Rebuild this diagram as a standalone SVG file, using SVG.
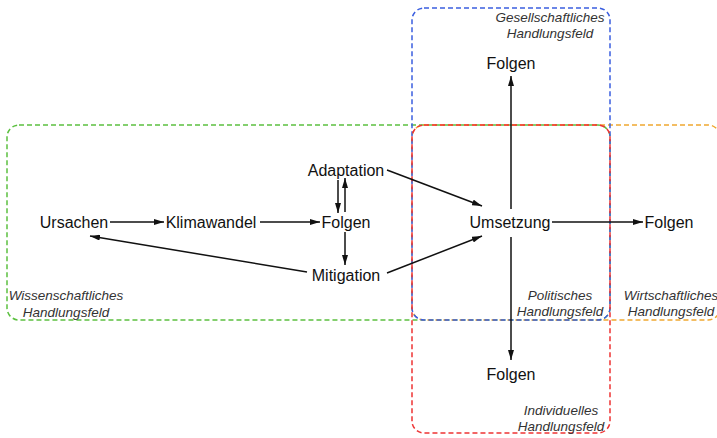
<svg xmlns="http://www.w3.org/2000/svg" width="717" height="438" viewBox="0 0 717 438">
<style>
.box{fill:none;stroke-width:1.5;stroke-dasharray:5 3}
.n{font-family:"Liberation Sans",Arial,sans-serif;font-size:16px;fill:#111;text-anchor:middle}
.f{font-family:"Liberation Sans",Arial,sans-serif;font-size:13.5px;font-style:italic;fill:#333;text-anchor:middle}
.c{stroke:#111;stroke-width:1.5;fill:none;marker-end:url(#ah)}
</style>
<defs>
<marker id="ah" viewBox="0 0 10 6" refX="10" refY="3" markerWidth="10" markerHeight="6" markerUnits="userSpaceOnUse" orient="auto">
<path d="M0,0 L10,3 L0,6 z" fill="#111"/>
</marker>
</defs>
<rect width="717" height="438" fill="#fff"/>
<g id="fields">
<g id="wissenschaftlich"><rect class="box" x="7" y="125" width="603" height="195" rx="12" stroke="#5cc040"/>
<text class="f" x="66" y="300">Wissenschaftliches</text><text class="f" x="66" y="317">Handlungsfeld</text></g>
<g id="wirtschaftlich"><rect class="box" x="412" y="125" width="308" height="195" rx="12" stroke="#f0a830"/>
<text class="f" x="671" y="300">Wirtschaftliches</text><text class="f" x="671" y="316">Handlungsfeld</text></g>
<g id="gesellschaftlich"><rect class="box" x="412" y="8" width="198" height="312" rx="12" stroke="#3b5fe0"/>
<text class="f" x="550" y="22">Gesellschaftliches</text><text class="f" x="550" y="38">Handlungsfeld</text></g>
<g id="individuell"><rect class="box" x="412" y="125" width="198" height="308" rx="12" stroke="#ee3333"/>
<text class="f" x="561" y="415">Individuelles</text><text class="f" x="561" y="431">Handlungsfeld</text></g>
<g id="politisch"><text class="f" x="560" y="300">Politisches</text><text class="f" x="560" y="316">Handlungsfeld</text></g>
</g>
<g id="connectors">
<line class="c" x1="110" y1="222" x2="164" y2="222"/>
<line class="c" x1="260" y1="222" x2="320" y2="222"/>
<line class="c" x1="338" y1="180" x2="338" y2="213"/>
<line class="c" x1="345" y1="212" x2="345" y2="178"/>
<line class="c" x1="345" y1="232" x2="345" y2="265"/>
<line class="c" x1="307" y1="272" x2="90" y2="236"/>
<line class="c" x1="387" y1="170" x2="482" y2="206"/>
<line class="c" x1="387" y1="273" x2="482" y2="236"/>
<line class="c" x1="511" y1="209" x2="511" y2="76"/>
<line class="c" x1="552" y1="222" x2="643" y2="222"/>
<line class="c" x1="511" y1="237" x2="511" y2="360"/>
</g>
<g id="ursachen"><text class="n" x="74" y="228">Ursachen</text></g>
<g id="klimawandel"><text class="n" x="211" y="228">Klimawandel</text></g>
<g id="folgen-mitte"><text class="n" x="346" y="228">Folgen</text></g>
<g id="adaptation"><text class="n" x="346" y="176">Adaptation</text></g>
<g id="mitigation"><text class="n" x="346" y="281">Mitigation</text></g>
<g id="umsetzung"><text class="n" x="510" y="228">Umsetzung</text></g>
<g id="folgen-oben"><text class="n" x="511" y="69">Folgen</text></g>
<g id="folgen-rechts"><text class="n" x="669" y="228">Folgen</text></g>
<g id="folgen-unten"><text class="n" x="511" y="380">Folgen</text></g>
</svg>
